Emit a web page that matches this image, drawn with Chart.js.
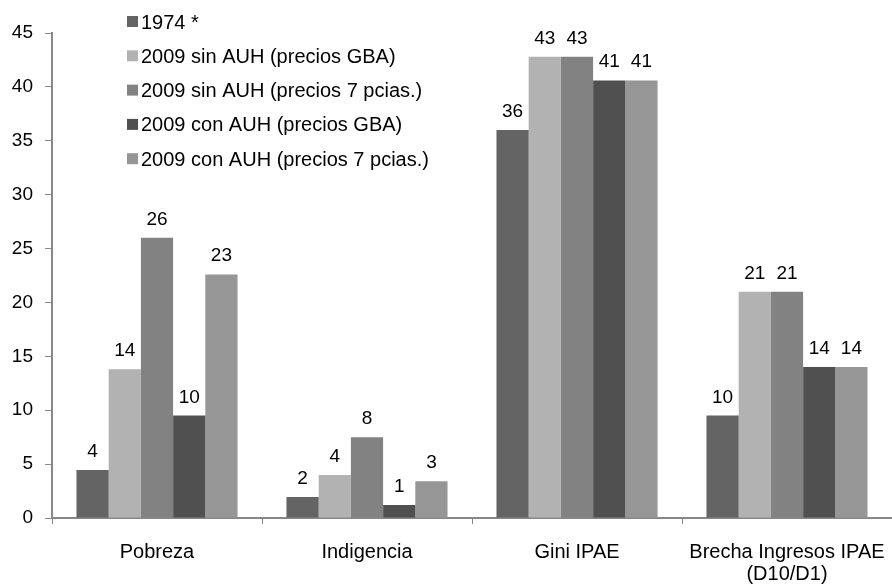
<!DOCTYPE html>
<html>
<head>
<meta charset="utf-8">
<script src="https://cdn.jsdelivr.net/npm/chart.js@4"></script>
<style>
  body { margin: 0; background: #fff; }
  #wrap { width: 892px; height: 584px; }
</style>
</head>
<body>
<div id="wrap"><canvas id="chart"></canvas></div>
<script>
// categorias y series
const categorias = ["Pobreza", "Indigencia", "Gini IPAE", ["Brecha Ingresos IPAE", "(D10/D1)"]];
const serie1974 = [4.45, 1.95, 36.0, 9.5];
const serieSinGBA = [13.8, 4.0, 42.8, 21.0];
const serieSin7 = [26.0, 7.5, 42.8, 21.0];
const serieConGBA = [9.5, 1.2, 40.6, 14.0];
const serieCon7 = [22.6, 3.4, 40.6, 14.0];
const nombres = [
  "1974 *",
  "2009 sin AUH (precios GBA)",
  "2009 sin AUH (precios 7 pcias.)",
  "2009 con AUH (precios GBA)",
  "2009 con AUH (precios 7 pcias.)"
];
const colores = ["#646464", "#b2b2b2", "#828282", "#505050", "#969696"];
const ticksY = [0, 5, 10, 15, 20, 25, 30, 35, 40, 45];

const FONT = "'Liberation Sans', Arial, sans-serif";

// etiquetas encima de las barras
const etiquetas = {
  id: "etiquetas",
  afterDatasetsDraw(chart) {
    const ctx = chart.ctx;
    ctx.save();
    ctx.font = "19px " + FONT;
    ctx.fillStyle = "#000";
    ctx.textAlign = "center";
    ctx.textBaseline = "alphabetic";
    chart.data.datasets.forEach((ds, i) => {
      chart.getDatasetMeta(i).data.forEach((bar, j) => {
        ctx.fillText(Math.round(ds.data[j]), bar.x, bar.y - 13);
      });
    });
    ctx.restore();
  }
};

// leyenda dentro del area
const leyenda = {
  id: "leyenda",
  afterDraw(chart) {
    const ctx = chart.ctx;
    const x = chart.chartArea.left + 75;
    ctx.save();
    ctx.font = "20px " + FONT;
    ctx.textBaseline = "middle";
    ctx.textAlign = "left";
    chart.data.datasets.forEach((ds, i) => {
      const y = 23 + i * 34.3;
      ctx.fillStyle = ds.backgroundColor;
      ctx.fillRect(x, y - 7, 11, 11);
      ctx.fillStyle = "#000";
      ctx.fillText(ds.label, x + 14, y);
    });
    ctx.restore();
  }
};

const series = [serie1974, serieSinGBA, serieSin7, serieConGBA, serieCon7];

new Chart(document.getElementById("chart"), {
  type: "bar",
  data: {
    labels: categorias,
    datasets: series.map((d, i) => ({
      label: nombres[i],
      data: d,
      backgroundColor: colores[i],
      borderWidth: 0,
      categoryPercentage: 0.767,
      barPercentage: 1.0
    }))
  },
  options: {
    responsive: true,
    maintainAspectRatio: false,
    animation: false,
    layout: { padding: { top: 33, right: 0, left: 0, bottom: 0 } },
    plugins: {
      legend: { display: false },
      tooltip: { enabled: false }
    },
    scales: {
      x: {
        grid: {
          drawOnChartArea: false,
          drawTicks: true,
          tickLength: 6,
          color: "#888"
        },
        border: { color: "#888", width: 2 },
        ticks: {
          color: "#000",
          font: { family: FONT, size: 20, lineHeight: 1.1 },
          padding: 17,
          maxRotation: 0
        },
        afterFit(scale) {
          scale.height = 66;
          scale.paddingLeft = 0;
          scale.paddingRight = 0;
        }
      },
      y: {
        min: 0,
        max: 45,
        afterBuildTicks(scale) { scale.ticks = ticksY.map(v => ({ value: v })); },
        grid: {
          drawOnChartArea: false,
          drawTicks: true,
          tickLength: 7,
          color: "#888"
        },
        border: { color: "#888", width: 2 },
        ticks: {
          color: "#000",
          font: { family: FONT, size: 19 },
          padding: 12
        },
        afterFit(scale) {
          scale.width = 52;
          scale.paddingTop = 0;
          scale.paddingBottom = 0;
        }
      }
    }
  },
  plugins: [etiquetas, leyenda]
});
</script>
</body>
</html>
